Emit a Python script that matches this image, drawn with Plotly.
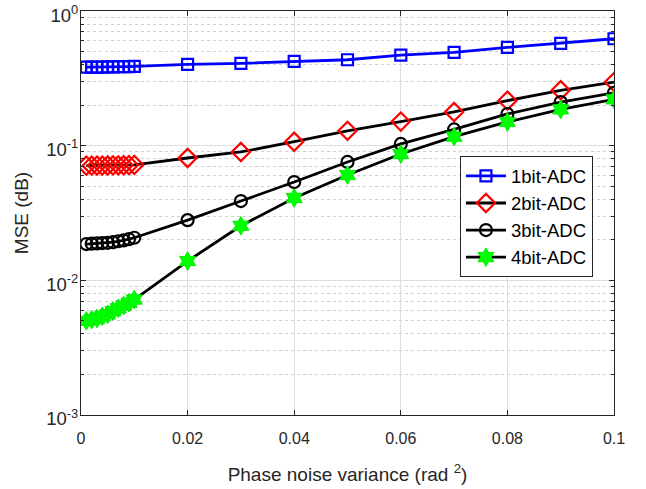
import plotly.graph_objects as go

x_vals = [0.001, 0.002, 0.003, 0.004, 0.005, 0.006, 0.007, 0.008, 0.009, 0.01,
          0.02, 0.03, 0.04, 0.05, 0.06, 0.07, 0.08, 0.09, 0.1]

mse_1bit = [0.383, 0.383, 0.384, 0.384, 0.385, 0.385, 0.386, 0.386, 0.387, 0.388,
            0.402, 0.409, 0.423, 0.435, 0.471, 0.493, 0.537, 0.575, 0.623]
mse_2bit = [0.0711, 0.0711, 0.0712, 0.0712, 0.0713, 0.0714, 0.0715, 0.0716, 0.0718, 0.072,
            0.081, 0.0898, 0.107, 0.129, 0.151, 0.178, 0.216, 0.258, 0.297]
mse_3bit = [0.0186, 0.0187, 0.0188, 0.0189, 0.019, 0.0192, 0.0195, 0.0198, 0.0202, 0.0207,
            0.028, 0.0388, 0.0537, 0.0757, 0.103, 0.132, 0.172, 0.211, 0.247]
mse_4bit = [0.0050, 0.0051, 0.0052, 0.0054, 0.0056, 0.0059, 0.0062, 0.0065, 0.0068, 0.0072,
            0.0139, 0.0254, 0.0409, 0.0605, 0.0867, 0.1167, 0.150, 0.186, 0.221]

names = ["1bit-ADC", "2bit-ADC", "3bit-ADC", "4bit-ADC"]

x_ticks = [0, 0.02, 0.04, 0.06, 0.08, 0.1]
x_tick_text = ["0", "0.02", "0.04", "0.06", "0.08", "0.1"]
y_ticks = [1e-3, 1e-2, 1e-1, 1]
y_tick_text = ["10<sup>-3</sup>", "10<sup>-2</sup>", "10<sup>-1</sup>", "10<sup>0</sup>"]

fig = go.Figure()
fig.add_trace(go.Scatter(x=x_vals, y=mse_1bit, name=names[0], mode="lines+markers",
                         line=dict(color="#0000ff", width=2.8),
                         marker=dict(symbol="square-open", size=11, color="#0000ff",
                                     line=dict(width=2.2, color="#0000ff"))))
fig.add_trace(go.Scatter(x=x_vals, y=mse_2bit, name=names[1], mode="lines+markers",
                         line=dict(color="#000000", width=2.8),
                         marker=dict(symbol="diamond-open", size=14, color="#ff0000",
                                     line=dict(width=2.2, color="#ff0000"))))
fig.add_trace(go.Scatter(x=x_vals, y=mse_3bit, name=names[2], mode="lines+markers",
                         line=dict(color="#000000", width=2.8),
                         marker=dict(symbol="circle-open", size=12, color="#000000",
                                     line=dict(width=2.2, color="#000000"))))
fig.add_trace(go.Scatter(x=x_vals, y=mse_4bit, name=names[3], mode="lines+markers",
                         line=dict(color="#000000", width=2.8),
                         marker=dict(symbol="hexagram", size=14, color="#00ff00",
                                     line=dict(width=1, color="#00ee00"))))

ff = "Liberation Sans, Arial, Helvetica, sans-serif"
txt = "#262626"

fig.update_layout(
    width=646, height=489,
    margin=dict(l=81, r=32, t=11, b=74, autoexpand=False),
    paper_bgcolor="white", plot_bgcolor="white",
    font=dict(family=ff, size=16, color=txt),
    showlegend=True,
    legend=dict(x=0.711, y=0.64, xanchor="left", yanchor="top",
                bgcolor="white", bordercolor=txt, borderwidth=1,
                font=dict(family=ff, size=18.5, color="#000000"),
                tracegroupgap=0, itemwidth=40, entrywidth=106, entrywidthmode="pixels"),
    xaxis=dict(range=[0, 0.1], tickvals=x_ticks, ticktext=x_tick_text,
               showgrid=True, gridcolor="#dedede", gridwidth=1,
               zeroline=False, showline=True, linecolor=txt, linewidth=1,
               mirror="ticks", ticks="inside", ticklen=5, tickcolor=txt,
               tickfont=dict(family=ff, size=16, color=txt),
               ticklabelstandoff=9,
               title=dict(text="Phase noise variance (rad <sup>2</sup>)", standoff=21,
                          font=dict(family=ff, size=19, color=txt))),
    yaxis=dict(type="log", range=[-3.0005, 0.0005], tickvals=y_ticks, ticktext=y_tick_text,
               showgrid=True, gridcolor="#dedede", gridwidth=1,
               zeroline=False, showline=True, linecolor=txt, linewidth=1,
               mirror="ticks", ticks="inside", ticklen=5, tickcolor=txt,
               tickfont=dict(family=ff, size=18.5, color=txt),
               ticklabelstandoff=-2, ticklabelshift=4, ticklabeloverflow="allow",
               minor=dict(dtick="D1", ticks="inside", ticklen=3, tickcolor=txt,
                          showgrid=True, gridcolor="#cfcfcf", griddash="dot", gridwidth=1),
               title=dict(text="MSE (dB)", standoff=12,
                          font=dict(family=ff, size=19, color=txt))),
)

fig.write_html("out.html")
